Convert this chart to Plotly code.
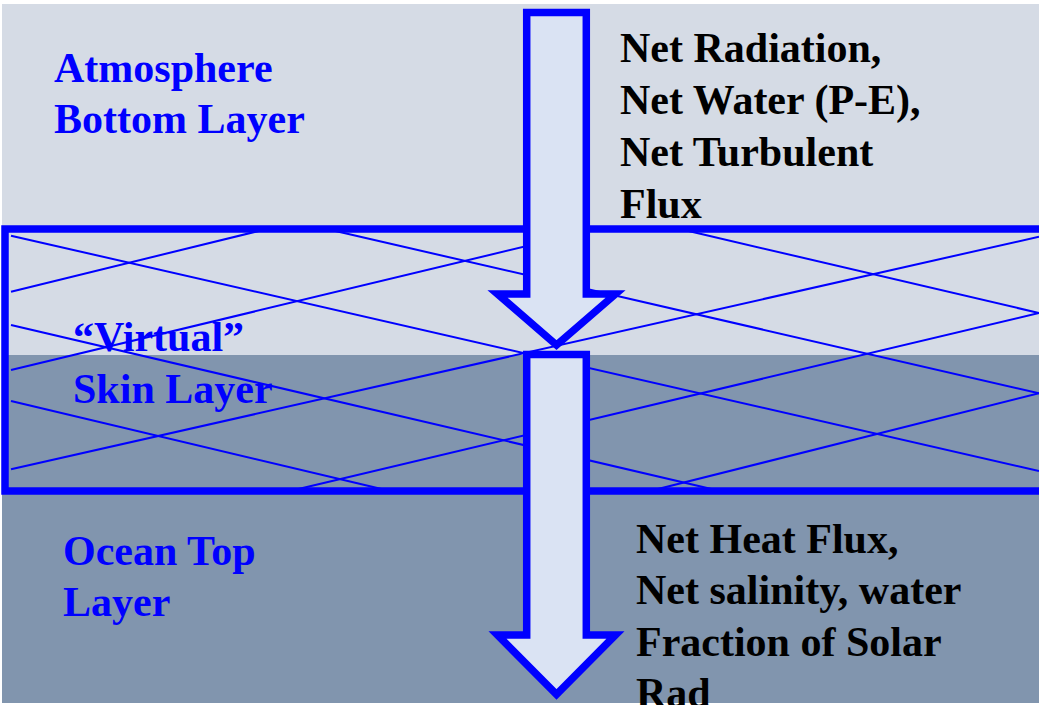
import plotly.graph_objects as go

# canvas in pixel units (y grows downward)
W, H = 1039, 705

# layer bands: (y_top, y_bottom, colour)
band_names = ["atmosphere", "ocean"]
band_top = [4, 355]
band_bottom = [355, 703]
band_color = ["#D5DBE5", "#8195AE"]

# skin layer box
box_x = [5, 1070]
box_y = [229, 491]

# hatch lines inside the skin box (x0, y0, x1, y1)
hatch_x0 = [11, 11, 11, 326.7, 680, 11, 11, 11, 290, 650]
hatch_y0 = [235.7, 325, 401, 229, 229, 291.7, 370, 469.3, 491, 491]
hatch_x1 = [1039, 720, 390, 1039, 1039, 266.7, 597.5, 1039, 1039, 1039]
hatch_y1 = [471, 491, 491, 393.3, 313, 229, 229, 236.7, 313, 393.3]

# arrows: shaft left/right, top, shoulder, wing left/right, tip
arrow_shaft_l = [526.7, 526.7]
arrow_shaft_r = [586.3, 586.3]
arrow_top = [12.5, 354.5]
arrow_shoulder = [294, 635]
arrow_wing_l = [497.5, 497.5]
arrow_wing_r = [615.5, 615.5]
arrow_tip = [345, 694.5]

# labels, one entry per text line
blue_lines = ["Atmosphere", "Bottom Layer", "\u201cVirtual\u201d", "Skin Layer", "Ocean Top", "Layer"]
blue_x = [52, 52, 71, 71, 61, 61]
blue_y = [68, 118.5, 337, 389, 550.5, 601.7]

black_lines = ["Net Radiation,", "Net Water (P-E),", "Net Turbulent", "Flux",
               "Net Heat Flux,", "Net salinity, water", "Fraction of Solar", "Rad"]
black_x = [618, 618, 618, 618, 634, 634, 634, 634]
black_y = [48, 100.5, 152, 204, 539, 590, 642, 693]

BLUE = "#0000FF"
FONT = "Times New Roman, Liberation Serif, serif"

fig = go.Figure()

# hatch lines as one trace
hx, hy = [], []
for a, b, c, d in zip(hatch_x0, hatch_y0, hatch_x1, hatch_y1):
    hx += [a, c, None]
    hy += [b, d, None]
fig.add_trace(go.Scatter(x=hx, y=hy, mode="lines", line=dict(color=BLUE, width=2),
                         hoverinfo="skip", showlegend=False))

shapes = []
for t, b, c in zip(band_top, band_bottom, band_color):
    shapes.append(dict(type="rect", xref="x", yref="y", x0=2, x1=W, y0=t, y1=b,
                       fillcolor=c, line=dict(width=0), layer="below"))

shapes.append(dict(type="rect", xref="x", yref="y", x0=box_x[0], x1=box_x[1],
                   y0=box_y[0], y1=box_y[1], line=dict(color=BLUE, width=7.5),
                   fillcolor="rgba(0,0,0,0)", layer="above"))

for i in range(len(arrow_top)):
    l, r = arrow_shaft_l[i], arrow_shaft_r[i]
    top, sh = arrow_top[i], arrow_shoulder[i]
    wl, wr, tip = arrow_wing_l[i], arrow_wing_r[i], arrow_tip[i]
    mid = (l + r) / 2
    path = (f"M {l},{top} L {r},{top} L {r},{sh} L {wr},{sh} L {mid},{tip} "
            f"L {wl},{sh} L {l},{sh} Z")
    shapes.append(dict(type="path", xref="x", yref="y", path=path,
                       fillcolor="#DAE3F3", line=dict(color=BLUE, width=7.5),
                       layer="above"))

annotations = []
for txt, x, y in zip(blue_lines, blue_x, blue_y):
    annotations.append(dict(x=x, y=y, xref="x", yref="y", text=f"<b>{txt}</b>",
                            showarrow=False, xanchor="left", yanchor="middle",
                            font=dict(family=FONT, size=42, color=BLUE)))
for txt, x, y in zip(black_lines, black_x, black_y):
    annotations.append(dict(x=x, y=y, xref="x", yref="y", text=f"<b>{txt}</b>",
                            showarrow=False, xanchor="left", yanchor="middle",
                            font=dict(family=FONT, size=42, color="black")))

fig.update_layout(
    width=W, height=H,
    margin=dict(l=0, r=0, t=0, b=0),
    paper_bgcolor="white", plot_bgcolor="white",
    xaxis=dict(range=[0, W], visible=False, fixedrange=True),
    yaxis=dict(range=[H, 0], visible=False, fixedrange=True),
    shapes=shapes, annotations=annotations,
    showlegend=False,
)

# drop the default page margin so the figure sits at the window's corner
fig.write_html("out.html", config={"displayModeBar": False},
               post_script="document.body.style.margin='0';document.body.style.overflow='hidden';")
